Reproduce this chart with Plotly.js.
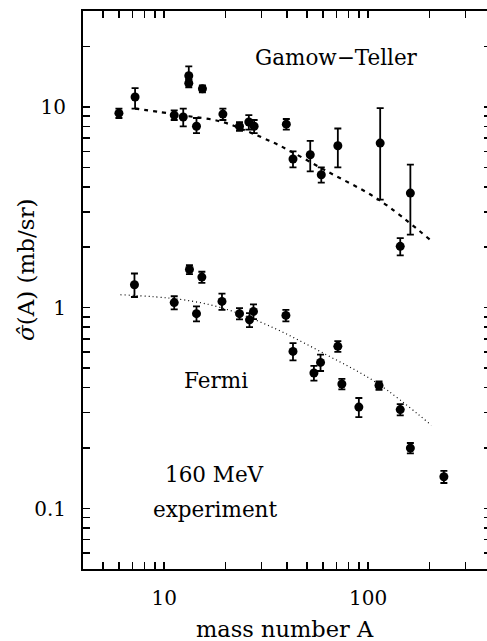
<!DOCTYPE html>
<html>
<head>
<meta charset="utf-8">
<script src="https://cdn.plot.ly/plotly-3.0.1.min.js"></script>
<style>
html,body{margin:0;padding:0;overflow:hidden;background:#fff;}
#chart{width:493px;height:641px;}
</style>
</head>
<body>
<div id="chart"></div>
<script>
// Gamow-Teller data
const gtA      = [6, 7.2, 11.2, 12.4, 13.2, 13.2, 15.4, 14.4, 19.4, 23.4, 26, 27.6, 39.7, 42.8, 52, 58.9, 71, 114.5, 161, 143.6];
const gtSigma  = [9.3, 11.2, 9.1, 8.9, 14.3, 13.1, 12.3, 8.0, 9.2, 8.0, 8.4, 8.0, 8.2, 5.5, 5.77, 4.59, 6.4, 6.6, 3.72, 2.02];
const gtErrUp  = [0.5, 1.2, 0.5, 0.9, 1.6, 0.5, 0.5, 0.8, 0.6, 0.4, 0.7, 0.6, 0.5, 0.5, 1.0, 0.4, 1.4, 3.25, 1.43, 0.2];
const gtErrLo  = [0.5, 1.4, 0.5, 0.9, 0.5, 0.6, 0.5, 0.6, 0.6, 0.4, 0.7, 0.6, 0.5, 0.5, 1.0, 0.4, 1.4, 3.15, 1.41, 0.2];
// Gamow-Teller calculation (dashed)
const gtCurveA     = [7.2, 12, 19, 26, 31, 37, 63, 113, 204];
const gtCurveSigma = [9.8, 9.1, 8.45, 7.5, 6.95, 6.4, 4.77, 3.44, 2.15];
// Fermi data
const fA      = [7.15, 11.2, 13.3, 15.3, 14.4, 19.2, 23.4, 26.2, 27.4, 39.5, 42.8, 54.2, 58.4, 71, 74.3, 90, 113, 143.6, 161, 235];
const fSigma  = [1.30, 1.06, 1.55, 1.42, 0.934, 1.075, 0.934, 0.87, 0.958, 0.915, 0.606, 0.473, 0.534, 0.642, 0.417, 0.32, 0.41, 0.311, 0.20, 0.144];
const fErrUp  = [0.18, 0.08, 0.08, 0.09, 0.08, 0.10, 0.06, 0.07, 0.08, 0.06, 0.06, 0.04, 0.05, 0.04, 0.025, 0.035, 0.02, 0.02, 0.012, 0.01];
const fErrLo  = [0.17, 0.08, 0.08, 0.09, 0.08, 0.10, 0.06, 0.07, 0.08, 0.06, 0.06, 0.04, 0.05, 0.04, 0.025, 0.035, 0.02, 0.02, 0.012, 0.01];
// Fermi calculation (dotted)
const fCurveA     = [6.1, 12, 19, 32, 63, 111, 204];
const fCurveSigma = [1.16, 1.10, 1.0, 0.82, 0.58, 0.42, 0.26];

// Tick values / labels
const xTickVals = [5,6,7,8,9,10,20,30,40,50,60,70,80,90,100,200,300];
const xTickText = ['','','','','','10','','','','','','','','','100','',''];
const yTickVals = [0.06,0.07,0.08,0.09,0.1,0.2,0.3,0.4,0.5,0.6,0.7,0.8,0.9,1,2,3,4,5,6,7,8,9,10,20];
const yTickText = ['','','','','0.1','','','','','','','','','1','','','','','','','','','10',''];

const FONT = 'DejaVu Serif, serif';
const FS = 20;

const errStyle = {type:'data', symmetric:false, color:'#000', thickness:1.8, width:3.5};

const traces = [
  {x: gtCurveA, y: gtCurveSigma, mode:'lines', type:'scatter',
   line:{color:'#000', width:2.2, dash:'4px,5px', shape:'spline'}, hoverinfo:'skip'},
  {x: fCurveA, y: fCurveSigma, mode:'lines', type:'scatter',
   line:{color:'#000', width:1.2, dash:'1px,3px', shape:'spline'}, hoverinfo:'skip'},
  {x: gtA, y: gtSigma, mode:'markers', type:'scatter',
   marker:{color:'#000', size:9, symbol:'circle'},
   error_y: Object.assign({array: gtErrUp, arrayminus: gtErrLo}, errStyle)},
  {x: fA, y: fSigma, mode:'markers', type:'scatter',
   marker:{color:'#000', size:9, symbol:'circle'},
   error_y: Object.assign({array: fErrUp, arrayminus: fErrLo}, errStyle)}
];

const axisCommon = {
  type:'log', showgrid:false, zeroline:false,
  showline:true, linecolor:'#000', linewidth:2, mirror:'allticks',
  ticks:'inside', ticklen:7, tickwidth:1.5, tickcolor:'#000',
  tickfont:{family:FONT, size:FS, color:'#000'}
};

const pxX = px => (px - 83) / 408;
const pxY = py => (569 - py) / 558;
const ann = (text, x, y, size, extra) => Object.assign({text, xref:'paper', yref:'paper', x:pxX(x), y:pxY(y),
  showarrow:false, font:{family:FONT, size:size, color:'#000'}, xanchor:'center', yanchor:'middle'}, extra || {});

const layout = {
  width:493, height:641,
  margin:{l:83, r:2, t:11, b:72},
  paper_bgcolor:'#fff', plot_bgcolor:'#fff',
  showlegend:false,
  font:{family:FONT, color:'#000'},
  xaxis: Object.assign({}, axisCommon, {
    range:[Math.log10(4), Math.log10(400)],
    tickmode:'array', tickvals:xTickVals, ticktext:xTickText,
    ticklabelstandoff:10
  }),
  yaxis: Object.assign({}, axisCommon, {
    range:[Math.log10(0.05), Math.log10(30)],
    tickmode:'array', tickvals:yTickVals, ticktext:yTickText,
    ticklabelstandoff:11
  }),
  annotations:[
    ann('Gamow\u2212Teller', 336, 58, 21.5),
    ann('Fermi', 216, 380, 21.5),
    ann('160 MeV', 214, 474, 21.5),
    ann('experiment', 215, 510, 21.5),
    ann('mass number A', 285, 629, 22.5),
    ann('<i>\u03c3\u0302</i>(A) (mb/sr)', 26, 270, 23, {textangle:-90})
  ]
};

Plotly.newPlot('chart', traces, layout, {staticPlot:true, displayModeBar:false});
</script>
</body>
</html>
